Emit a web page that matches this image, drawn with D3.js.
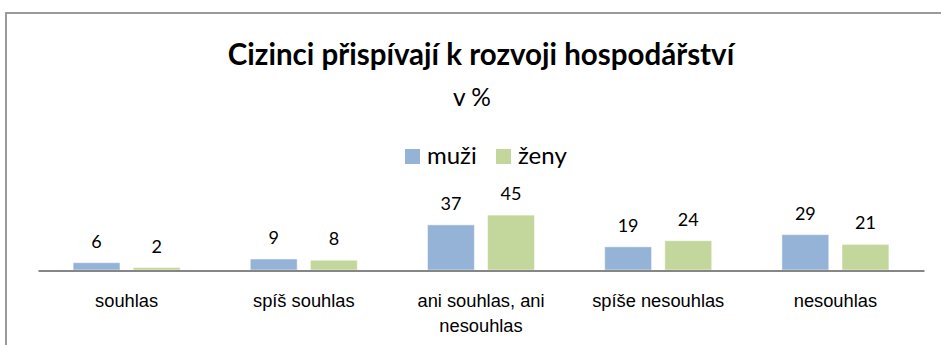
<!DOCTYPE html>
<html>
<head>
<meta charset="utf-8">
<script src="https://cdn.jsdelivr.net/npm/d3@7"></script>
<style>
  html, body { margin: 0; padding: 0; background: #fff; }
  svg { display: block; font-family: Lato, "Open Sans", sans-serif; }
</style>
</head>
<body>
<svg id="chart" width="941" height="345"></svg>
<script>
// Survey answers: "Foreigners contribute to the development of the economy" (in %)
const categories = ["souhlas", "spíš souhlas", "ani souhlas, ani nesouhlas", "spíše nesouhlas", "nesouhlas"];
const categoryLines = [["souhlas"], ["spíš souhlas"], ["ani souhlas, ani", "nesouhlas"], ["spíše nesouhlas"], ["nesouhlas"]];
const seriesNames = ["muži", "ženy"];
const muzi = [6, 9, 37, 19, 29];
const zeny = [2, 8, 45, 24, 21];
const seriesColors = ["#95b3d7", "#c3d69b"];

const svg = d3.select("#chart");

// outer chart frame (extends past the window on the right and bottom)
svg.append("rect")
  .attr("x", 6).attr("y", 13)
  .attr("width", 960).attr("height", 360)
  .attr("fill", "#fff")
  .attr("stroke", "#8f8f8f").attr("stroke-width", 1.8);

// titles
svg.append("text")
  .attr("x", 481).attr("y", 64.5)
  .attr("text-anchor", "middle")
  .attr("font-size", 29.5).attr("font-weight", 700)
  .attr("fill", "#000")
  .text("Cizinci přispívají k rozvoji hospodářství");
svg.append("text")
  .attr("x", 472).attr("y", 106)
  .attr("text-anchor", "middle")
  .attr("font-size", 24.5)
  .attr("fill", "#000")
  .text("v %");

// legend
const legend = svg.append("g").attr("transform", "translate(405,149)");
const legendX = [0, 91];
seriesNames.forEach((name, i) => {
  const g = legend.append("g").attr("transform", `translate(${legendX[i]},0)`);
  g.append("rect").attr("width", 15).attr("height", 15).attr("fill", seriesColors[i]);
  g.append("text").attr("x", 22).attr("y", 15).attr("font-size", 24).attr("fill", "#000").text(name);
});

// plot geometry
const plotLeft = 38, plotRight = 924, axisY = 270;
const x0 = d3.scaleBand().domain(categories).range([plotLeft, plotRight]).paddingInner(0).paddingOuter(0);
const x1 = d3.scaleBand().domain(seriesNames).range([0, 107]).paddingInner(0.22);
const y = d3.scaleLinear().domain([0, 50]).range([axisY, axisY - 61]);

const data = categories.map((c, i) => ({ cat: c, values: [muzi[i], zeny[i]] }));
const groupOffset = (x0.bandwidth() - 107) / 2;

const groups = svg.append("g").selectAll("g").data(data).join("g")
  .attr("transform", d => `translate(${x0(d.cat) + groupOffset},0)`);

groups.selectAll("rect").data(d => d.values.map((v, i) => ({ v, s: seriesNames[i], i })))
  .join("rect")
  .attr("x", d => x1(d.s))
  .attr("y", d => y(d.v))
  .attr("width", x1.bandwidth())
  .attr("height", d => y(0) - y(d.v))
  .attr("fill", d => seriesColors[d.i])
  .attr("stroke", "#ffffff").attr("stroke-opacity", 0.5).attr("stroke-width", 1);

groups.selectAll("text.val").data(d => d.values.map((v, i) => ({ v, s: seriesNames[i], i })))
  .join("text")
  .attr("class", "val")
  .attr("x", d => x1(d.s) + x1.bandwidth() / 2)
  .attr("y", d => y(d.v) - 15)
  .attr("text-anchor", "middle")
  .attr("font-size", 18)
  .attr("fill", "#000")
  .text(d => d.v);

// category axis
const xAxis = d3.axisBottom(x0).tickSize(0).tickFormat("");
const axisG = svg.append("g").attr("transform", `translate(0,${axisY + 0.5})`).call(xAxis);
axisG.select(".domain").attr("stroke", "#868686").attr("stroke-width", 2);

axisG.selectAll(".tick").each(function (d, i) {
  const t = d3.select(this).append("text")
    .attr("text-anchor", "middle")
    .attr("font-size", 18.3)
    .attr("fill", "#000");
  categoryLines[i].forEach((line, j) => {
    t.append("tspan").attr("x", 0).attr("y", 36 + j * 25).text(line);
  });
});
</script>
</body>
</html>
